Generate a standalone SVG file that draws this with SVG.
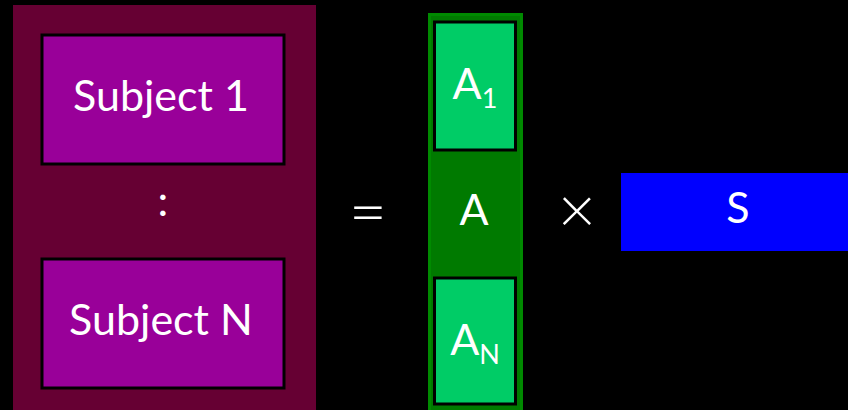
<svg xmlns="http://www.w3.org/2000/svg" width="848" height="410" viewBox="0 0 848 410">
<style>
text{font-family:Lato,"Open Sans","Liberation Sans",sans-serif;fill:#fff;text-anchor:middle}
.big{font-size:43px}
.op{font-size:66px;font-weight:300}
.sub{font-size:27px}
.subj{fill:#990099;stroke:#000;stroke-width:3}
.ablk{fill:#00CC66;stroke:#000;stroke-width:3}
</style>
<rect width="848" height="410" fill="#000"/>
<g id="data">
<rect x="13" y="5" width="303" height="410" fill="#660033"/>
<text x="163" y="216" class="big">:</text>
</g>
<g id="subject1">
<rect class="subj" x="42" y="35" width="242" height="129"/>
<text x="161" y="111" class="big">Subject 1</text>
</g>
<g id="subjectN">
<rect class="subj" x="42" y="259" width="242" height="129"/>
<text x="161" y="335" class="big">Subject N</text>
</g>
<g id="equals">
<text x="368" y="235" class="op">=</text>
</g>
<g id="A">
<rect x="429.5" y="14.5" width="92" height="400" fill="#007A00" stroke="#008A00" stroke-width="3"/>
<text x="474" y="225" class="big">A</text>
</g>
<g id="A1">
<rect class="ablk" x="434.5" y="22" width="81" height="128"/>
<text x="475" y="99" class="big"><tspan>A</tspan><tspan class="sub" dy="9">1</tspan></text>
</g>
<g id="AN">
<rect class="ablk" x="434.5" y="278" width="81" height="126"/>
<text x="475" y="355" class="big"><tspan>A</tspan><tspan class="sub" dy="9">N</tspan></text>
</g>
<g id="times">
<text x="577" y="233" class="op">×</text>
</g>
<g id="S">
<rect x="621" y="173" width="227" height="78" fill="#0000FF"/>
<text x="738" y="223" class="big">S</text>
</g>
<g id="connectors"></g>
</svg>
